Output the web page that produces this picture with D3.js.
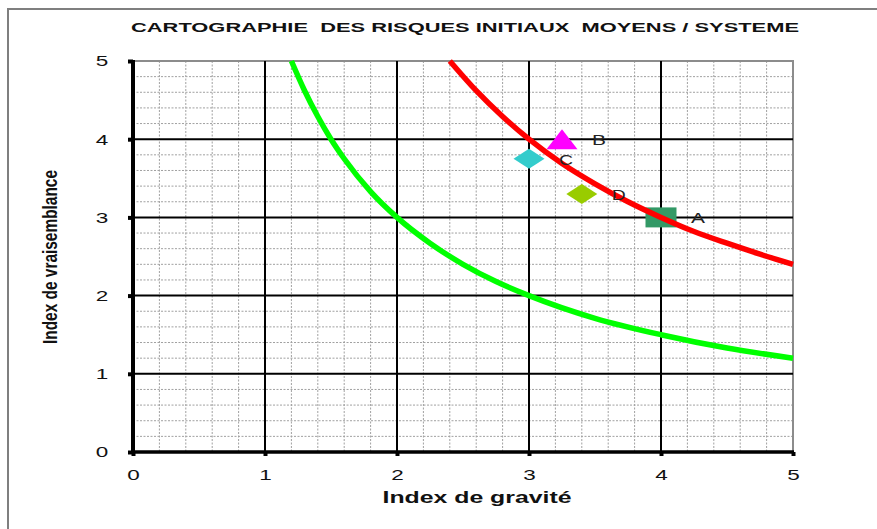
<!DOCTYPE html>
<html>
<head>
<meta charset="utf-8">
<script src="https://cdn.jsdelivr.net/npm/d3@7/dist/d3.min.js"></script>
<style>
  html, body { margin: 0; padding: 0; background: #fff; }
  svg { display: block; }
  text { font-family: Arial, "Liberation Sans", sans-serif; }
</style>
</head>
<body>
<svg id="chart" width="877" height="529"></svg>
<script>
// Risk points: gravity (x) and likelihood (y)
const pointNames  = ["A", "B", "C", "D"];
const gravity     = [4, 3.25, 3, 3.4];
const likelihood  = [3, 4, 3.75, 3.3];
const pointShapes = ["square", "triangle", "diamond", "diamond"];
const pointColors = ["#339966", "#ff00ff", "#33cccc", "#99cc00"];

// Iso-risk curves (gravity x likelihood = 6 and = 12)
const lowCurveX  = [1.2, 1.3, 1.4, 1.5, 1.6, 1.8, 2, 2.25, 2.5, 2.75, 3, 3.5, 4, 4.5, 5];
const lowCurveY  = [5, 4.62, 4.29, 4, 3.75, 3.33, 3, 2.67, 2.4, 2.18, 2, 1.71, 1.5, 1.33, 1.2];
const highCurveX = [2.4, 2.6, 2.8, 3, 3.25, 3.5, 3.75, 4, 4.25, 4.5, 4.75, 5];
const highCurveY = [5, 4.62, 4.29, 4, 3.69, 3.43, 3.2, 3, 2.82, 2.67, 2.53, 2.4];

const xTicks = [0, 1, 2, 3, 4, 5];
const yTicks = [0, 1, 2, 3, 4, 5];

const title  = "CARTOGRAPHIE  DES RISQUES INITIAUX  MOYENS / SYSTEME";
const xTitle = "Index de gravité";
const yTitle = "Index de vraisemblance";

const svg = d3.select("#chart");
const plotLeft = 133, plotRight = 793, plotTop = 61, plotBottom = 452;

const x = d3.scaleLinear().domain([0, 5]).range([plotLeft, plotRight]);
const y = d3.scaleLinear().domain([0, 5]).range([plotBottom, plotTop]);

// outer frame
svg.append("path")
  .attr("d", `M8,529 V9 H877`)
  .attr("fill", "none").attr("stroke", "#7f7f7f").attr("stroke-width", 2);

// title
svg.append("text")
  .attr("x", 465).attr("y", 32)
  .attr("text-anchor", "middle")
  .attr("font-size", 13.5).attr("font-weight", "bold")
  .attr("fill", "#111")
  .attr("textLength", 668).attr("lengthAdjust", "spacingAndGlyphs")
  .style("white-space", "pre")
  .text(title);

// minor dashed grid
const minor = d3.range(0.2, 5, 0.2).filter(v => Math.abs(v - Math.round(v)) > 1e-6);
const g = svg.append("g");
g.selectAll(".vx").data(minor).join("line")
  .attr("x1", d => x(d)).attr("x2", d => x(d))
  .attr("y1", plotTop).attr("y2", plotBottom)
  .attr("stroke", "#a0a0a0").attr("stroke-width", 1).attr("stroke-dasharray", "2,1.5");
g.selectAll(".hy").data(minor).join("line")
  .attr("y1", d => y(d)).attr("y2", d => y(d))
  .attr("x1", plotLeft).attr("x2", plotRight)
  .attr("stroke", "#a0a0a0").attr("stroke-width", 1).attr("stroke-dasharray", "2,1.5");

// plot border (top/right)
svg.append("path")
  .attr("d", `M${plotLeft},${plotTop} H${plotRight} V${plotBottom}`)
  .attr("fill", "none").attr("stroke", "#8c8c8c").attr("stroke-width", 2);

// major grid
const gm = svg.append("g");
gm.selectAll(".mx").data(xTicks.slice(1, -1)).join("line")
  .attr("x1", d => x(d)).attr("x2", d => x(d))
  .attr("y1", plotTop).attr("y2", plotBottom)
  .attr("stroke", "#000").attr("stroke-width", 2);
gm.selectAll(".my").data(yTicks.slice(1, -1)).join("line")
  .attr("y1", d => y(d)).attr("y2", d => y(d))
  .attr("x1", plotLeft).attr("x2", plotRight)
  .attr("stroke", "#000").attr("stroke-width", 2);

// axes
const xAxis = d3.axisBottom(x).tickValues(xTicks).tickSize(4).tickPadding(13).tickFormat(d3.format("d"));
const yAxis = d3.axisLeft(y).tickValues(yTicks).tickSize(5).tickPadding(20).tickFormat(d3.format("d"));

const gx = svg.append("g").attr("transform", `translate(0,${plotBottom})`).call(xAxis);
const gy = svg.append("g").attr("transform", `translate(${plotLeft},0)`).call(yAxis);
[gx, gy].forEach(a => {
  a.select(".domain").remove();
  a.selectAll(".tick line").attr("stroke", "#000").attr("stroke-width", 4);
  a.selectAll(".tick text").attr("font-size", 15).attr("fill", "#111")
    .attr("font-family", "Arial, 'Liberation Sans', sans-serif")
    .attr("textLength", 12.5).attr("lengthAdjust", "spacingAndGlyphs");
});
gy.selectAll(".tick text").attr("text-anchor", "middle").attr("x", -31);
svg.append("line").attr("x1", plotLeft).attr("x2", plotRight + 1).attr("y1", plotBottom).attr("y2", plotBottom)
  .attr("stroke", "#000").attr("stroke-width", 3.5);
svg.append("line").attr("x1", plotLeft).attr("x2", plotLeft).attr("y1", plotTop - 1).attr("y2", plotBottom + 2)
  .attr("stroke", "#000").attr("stroke-width", 4);

// axis titles
svg.append("text")
  .attr("x", 477).attr("y", 503)
  .attr("text-anchor", "middle")
  .attr("font-size", 16).attr("font-weight", "bold").attr("fill", "#111")
  .attr("textLength", 189).attr("lengthAdjust", "spacingAndGlyphs")
  .text(xTitle);
svg.append("text")
  .attr("transform", "translate(57,257) rotate(-90)")
  .attr("text-anchor", "middle")
  .attr("font-size", 19.5).attr("font-weight", "bold").attr("fill", "#111")
  .attr("font-family", "'Liberation Sans Narrow', 'Arial Narrow', Arial, sans-serif")
  .attr("textLength", 174).attr("lengthAdjust", "spacingAndGlyphs")
  .text(yTitle);

// markers (half-width, half-height)
const hw = 15.5, hh = 10;
const shapePath = {
  square:   `M${-hw},${-hh} H${hw} V${hh} H${-hw} Z`,
  triangle: `M0,${-hh} L${hw},${hh} L${-hw},${hh} Z`,
  diamond:  `M0,${-hh} L${hw},0 L0,${hh} L${-hw},0 Z`
};
const pts = pointNames.map((n, i) => ({ name: n, gx: gravity[i], ly: likelihood[i], shape: pointShapes[i], color: pointColors[i] }));

svg.append("g").selectAll("path").data(pts).join("path")
  .attr("transform", d => `translate(${x(d.gx)},${y(d.ly)})`)
  .attr("d", d => shapePath[d.shape])
  .attr("fill", d => d.color);

// iso-risk curves
const line = d3.line().x(d => x(d[0])).y(d => y(d[1])).curve(d3.curveMonotoneX);
const curves = [
  { xs: lowCurveX, ys: lowCurveY, color: "#00ff00" },
  { xs: highCurveX, ys: highCurveY, color: "#ff0000" }
];
svg.append("g").selectAll("path").data(curves).join("path")
  .attr("d", c => line(c.xs.map((v, i) => [v, c.ys[i]])))
  .attr("fill", "none").attr("stroke", c => c.color).attr("stroke-width", 5.5)
  .attr("stroke-linecap", "butt");

// point labels
svg.append("g").selectAll("text").data(pts).join("text")
  .attr("x", d => x(d.gx) + 30).attr("y", d => y(d.ly) + 6)
  .attr("font-size", 14).attr("fill", "#222")
  .attr("textLength", 14).attr("lengthAdjust", "spacingAndGlyphs")
  .text(d => d.name);
</script>
</body>
</html>
